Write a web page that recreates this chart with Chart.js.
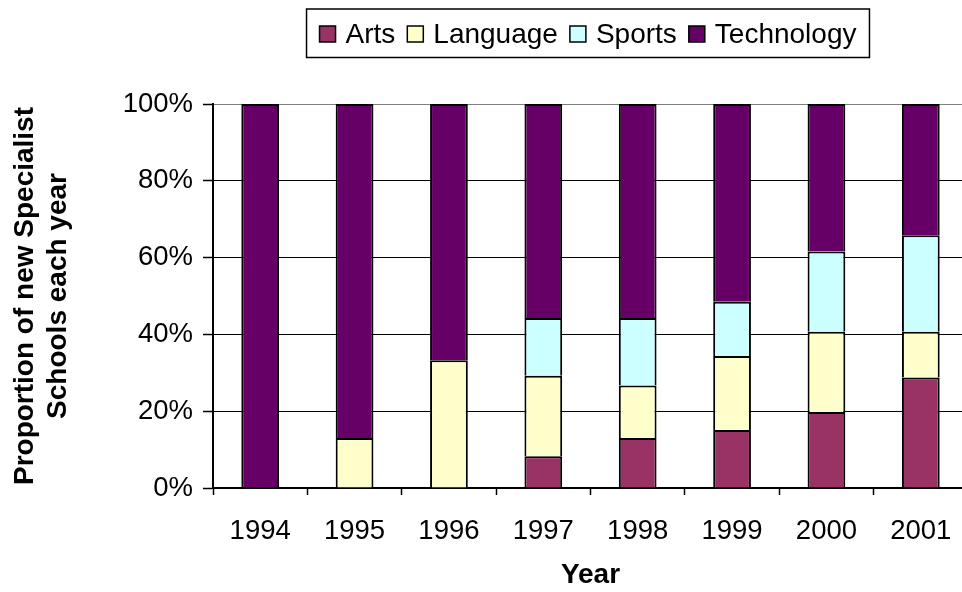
<!DOCTYPE html>
<html>
<head>
<meta charset="utf-8">
<script src="https://cdn.jsdelivr.net/npm/chart.js@4.4.1/dist/chart.umd.min.js"></script>
<style>
  html, body { margin: 0; padding: 0; overflow: hidden; background: #fff; }
  #wrap { width: 980px; height: 592px; }
</style>
</head>
<body>
<div id="wrap"><canvas id="c" width="980" height="592"></canvas></div>
<script>
const years = ['1994', '1995', '1996', '1997', '1998', '1999', '2000', '2001'];
const seriesNames = ['Arts', 'Language', 'Sports', 'Technology'];
const seriesColors = ['#993366', '#FFFFCC', '#CCFFFF', '#660066'];
const arts       = [0,    0,    0,    8.3,  13.0, 15.1, 19.8, 28.8];
const language   = [0,    13.0, 33.3, 20.9, 13.7, 19.3, 20.9, 11.9];
const sports     = [0,    0,    0,    15.1, 17.6, 14.1, 20.9, 25.1];
const technology = [100,  87.0, 66.7, 55.7, 55.7, 51.5, 38.4, 34.2];
const yTicks = [0, 20, 40, 60, 80, 100];
const yTitle = ['Proportion of new Specialist', 'Schools each year'];
const xTitle = 'Year';

const FONT = "'Liberation Sans', Arial, sans-serif";
Chart.defaults.color = '#000';
Chart.defaults.font.family = FONT;

const seriesValues = [arts, language, sports, technology];

const boxedLegend = {
  id: 'boxedLegend',
  afterDraw(chart) {
    const ctx = chart.ctx;
    const ds = chart.data.datasets;
    ctx.save();
    ctx.font = '28px ' + FONT;
    const sq = 16, gapText = 10, gapItem = 12;
    let total = 0;
    const widths = ds.map(d => ctx.measureText(d.label).width);
    widths.forEach((w, i) => { total += sq + gapText + w + (i < ds.length - 1 ? gapItem : 0); });
    const cx = 588, cy = 34;
    const boxW = total + 26, boxTop = 9, boxBot = 57.5;
    const bx = cx - boxW / 2;
    ctx.lineWidth = 1.5;
    ctx.strokeStyle = '#000';
    ctx.fillStyle = '#fff';
    ctx.fillRect(bx, boxTop, boxW, boxBot - boxTop);
    ctx.strokeRect(bx, boxTop, boxW, boxBot - boxTop);
    let x = cx - total / 2;
    ctx.textBaseline = 'middle';
    ctx.textAlign = 'left';
    ds.forEach((d, i) => {
      ctx.fillStyle = d.backgroundColor;
      ctx.fillRect(x, cy - sq / 2, sq, sq);
      ctx.lineWidth = 1.5;
      ctx.strokeStyle = '#000';
      ctx.strokeRect(x, cy - sq / 2, sq, sq);
      ctx.fillStyle = '#000';
      ctx.fillText(d.label, x + sq + gapText, cy + 1);
      x += sq + gapText + widths[i] + gapItem;
    });
    ctx.restore();
  }
};

new Chart(document.getElementById('c'), {
  type: 'bar',
  data: {
    labels: years,
    datasets: seriesNames.map((name, i) => ({
      label: name,
      data: seriesValues[i],
      backgroundColor: seriesColors[i],
      borderColor: '#000',
      borderWidth: 2,
      borderSkipped: 'start',
      barPercentage: 0.4,
      categoryPercentage: 1.0
    }))
  },
  options: {
    responsive: false,
    animation: false,
    events: [],
    layout: { padding: { top: 104, right: 12, bottom: 0, left: 0 } },
    plugins: {
      legend: { display: false },
      tooltip: { enabled: false }
    },
    scales: {
      x: {
        stacked: true,
        offset: true,
        afterFit(scale) { scale.height = 104; },
        grid: {
          display: true,
          drawOnChartArea: false,
          drawTicks: true,
          tickLength: 7,
          tickColor: '#000',
          tickWidth: 1.5,
          offset: true
        },
        border: { display: true, color: '#000', width: 2 },
        ticks: {
          font: { size: 27.5 },
          padding: 20,
          maxRotation: 0,
          autoSkip: false
        },
        title: {
          display: true,
          text: xTitle,
          font: { size: 28, weight: 'bold' },
          padding: { top: 0, bottom: 0 }
        }
      },
      y: {
        stacked: true,
        min: 0,
        max: 100,
        afterFit(scale) { scale.width = 213; },
        afterBuildTicks(scale) { scale.ticks = yTicks.map(v => ({ value: v })); },
        grid: {
          color: ctx => (ctx.tick && ctx.tick.value === 100) ? '#808080' : '#000',
          lineWidth: 1,
          tickLength: 10,
          tickColor: '#000',
          tickWidth: 1.5
        },
        border: { display: true, color: '#000', width: 2 },
        ticks: {
          font: { size: 27.5 },
          padding: 10,
          callback: v => v + '%'
        },
        title: {
          display: true,
          text: yTitle,
          font: { size: 28, weight: 'bold' },
          padding: { top: 8, bottom: 0 }
        }
      }
    }
  },
  plugins: [boxedLegend]
});
</script>
</body>
</html>
